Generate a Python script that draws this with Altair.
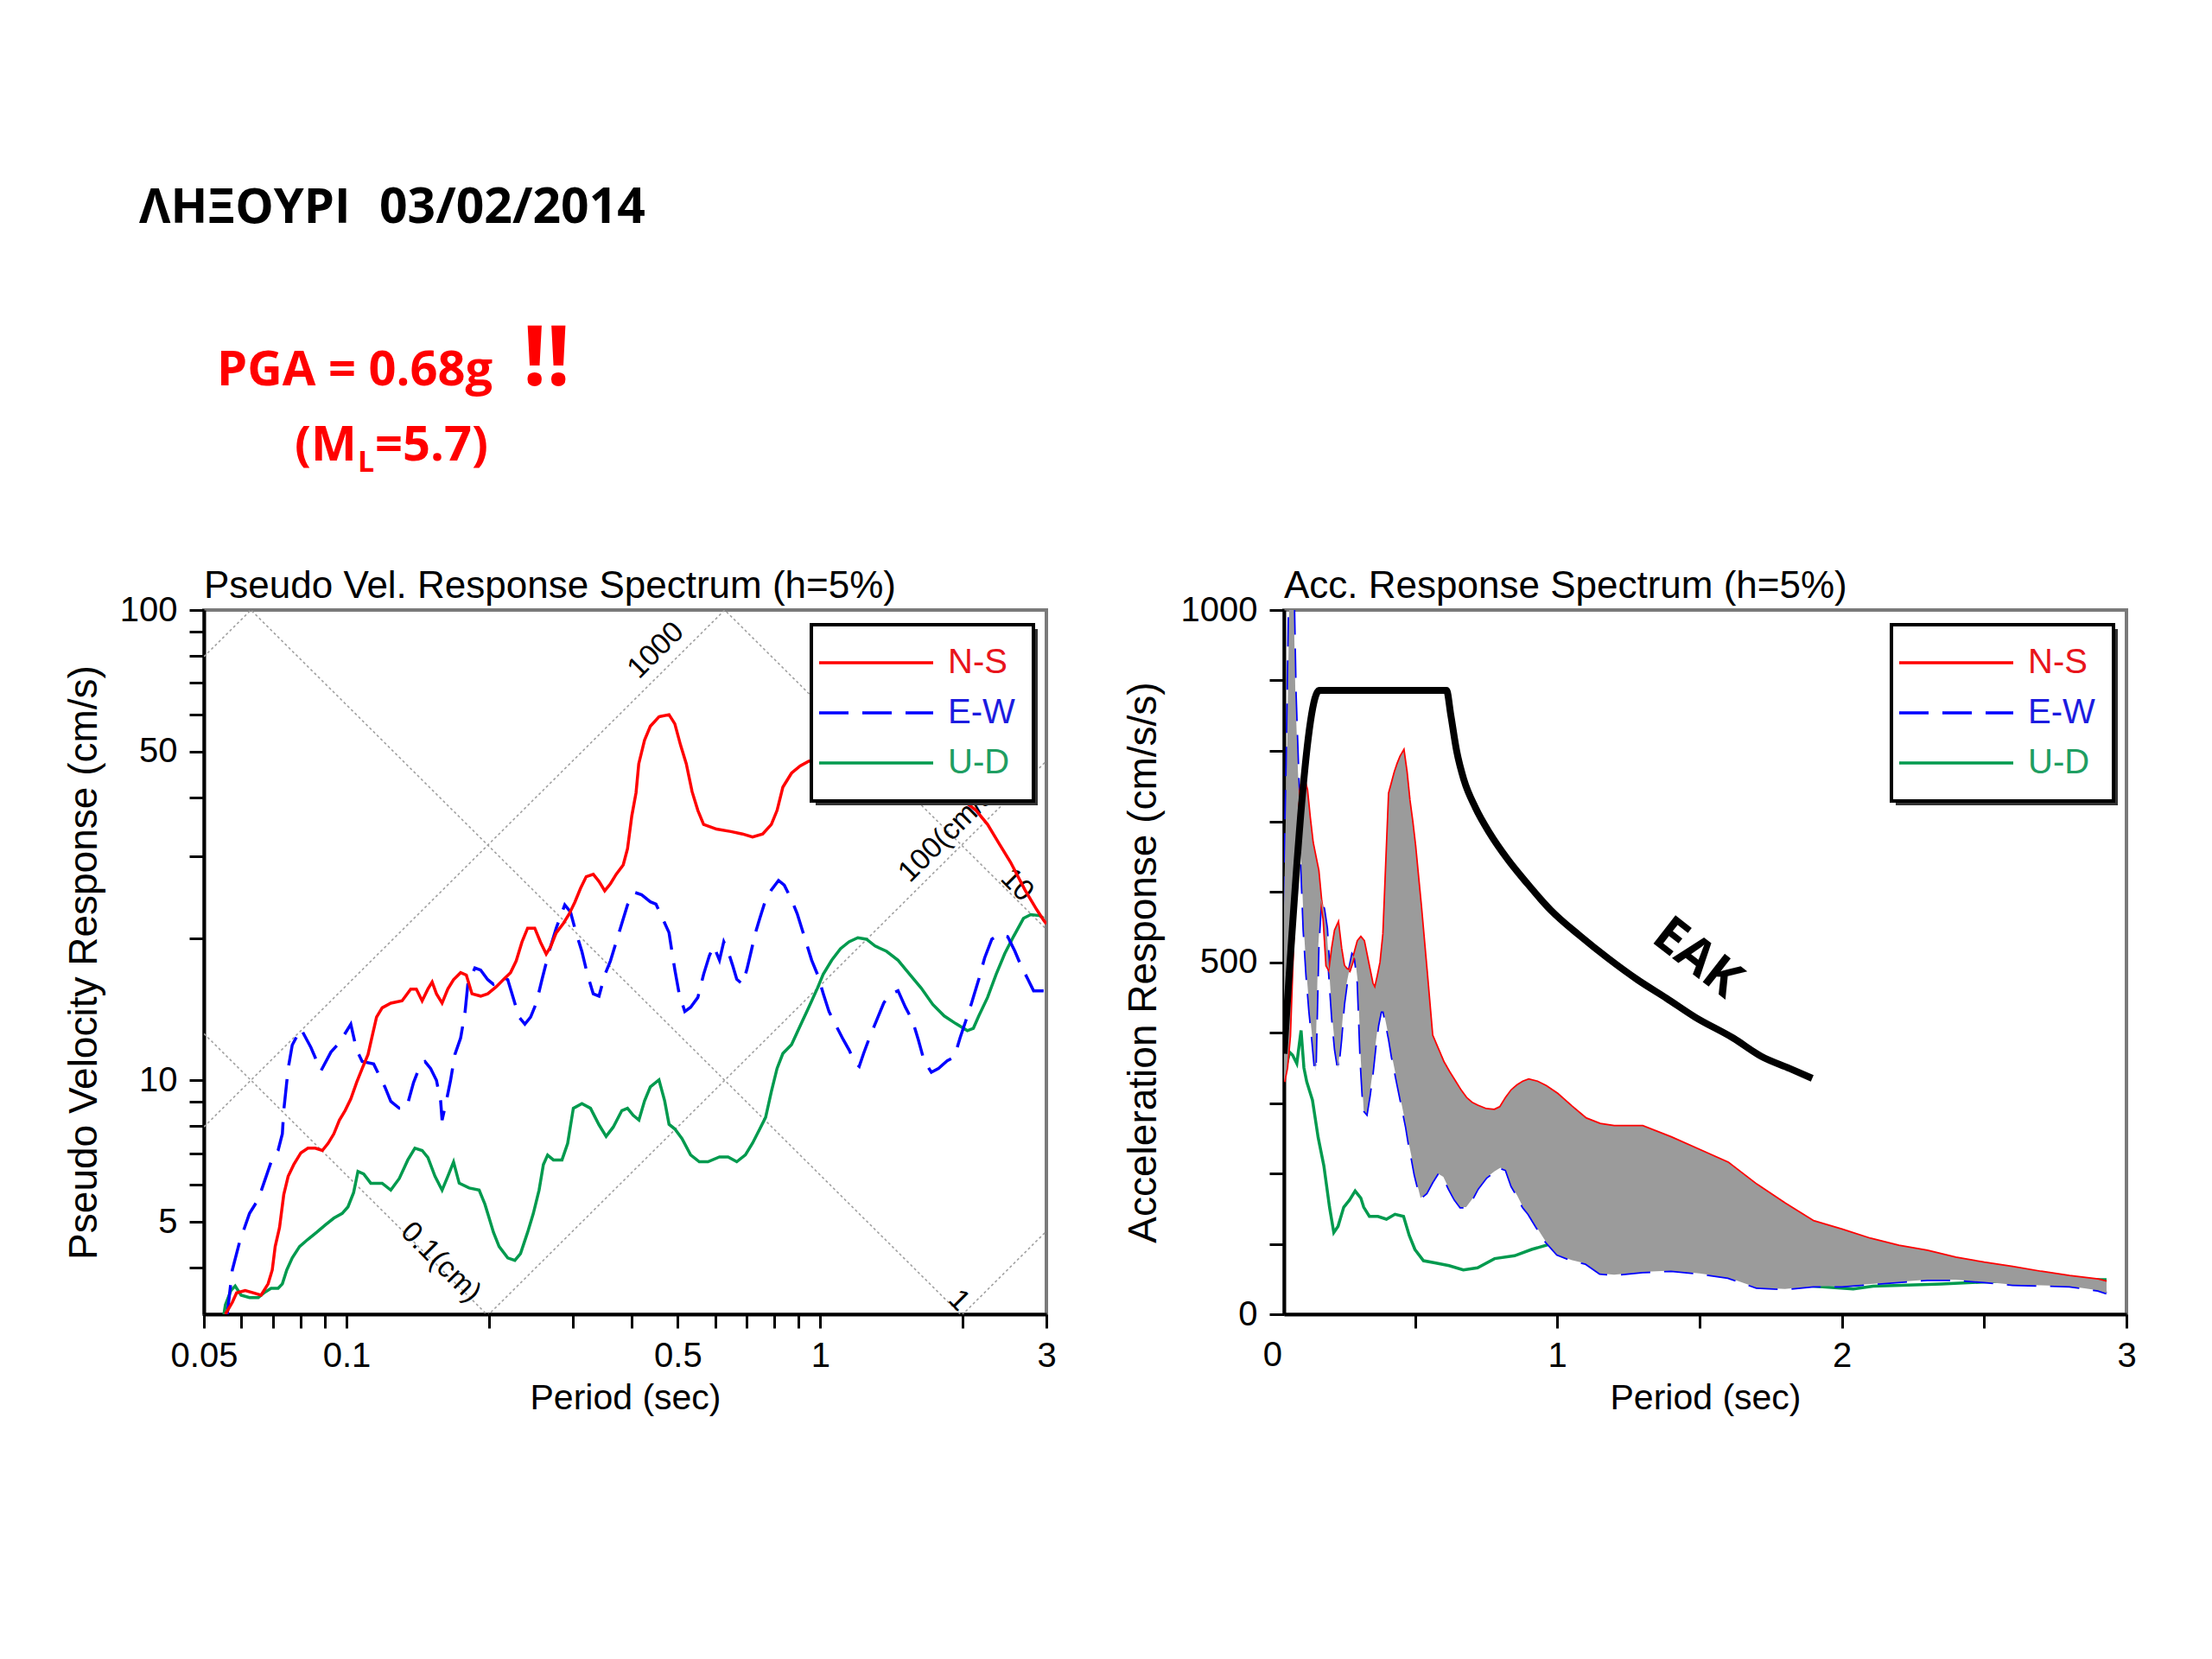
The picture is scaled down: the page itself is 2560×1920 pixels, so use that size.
"""Response spectra slide (Lixouri, 03/02/2014) rebuilt with Altair."""

import math

import altair as alt
import pandas as pd

# ---------------------------------------------------------------- header text
PLACE = 'ΛΗΞΟΥΡΙ'
DATE = '03/02/2014'
PGA_TEXT = 'PGA = 0.68g'
BANG = '!!'
MAG_PARTS = ['(M', 'L', '=5.7)']

# ------------------------------------------- left panel: pseudo velocity (cm/s)
NS_PSV = [
    (0.0555, 3.18), (0.0574, 3.37), (0.0586, 3.53), (0.0611, 3.57), (0.0637, 3.53),
    (0.0660, 3.49), (0.0683, 3.69), (0.0697, 3.95), (0.0707, 4.43), (0.0722, 4.86),
    (0.0737, 5.71), (0.0753, 6.25), (0.0774, 6.62), (0.0801, 7.01), (0.0829, 7.17),
    (0.0859, 7.17), (0.0889, 7.09), (0.0914, 7.34), (0.0940, 7.69), (0.0966, 8.23),
    (0.0993, 8.62), (0.1021, 9.13), (0.1050, 9.89), (0.1079, 10.59), (0.1110, 11.34),
    (0.1133, 12.43), (0.1157, 13.62), (0.1189, 14.26), (0.1240, 14.59), (0.1310, 14.76),
    (0.1366, 15.63), (0.1404, 15.63), (0.1444, 14.76), (0.1485, 15.63), (0.1516, 16.18),
    (0.1548, 15.27), (0.1591, 14.59), (0.1636, 15.63), (0.1682, 16.37), (0.1741, 16.94),
    (0.1790, 16.74), (0.1840, 15.27), (0.1919, 15.10), (0.1986, 15.27), (0.2071, 15.81),
    (0.2143, 16.37), (0.2219, 16.94), (0.2281, 17.94), (0.2345, 19.66), (0.2411, 21.06),
    (0.2496, 21.06), (0.2567, 19.66), (0.2639, 18.56), (0.2695, 19.21), (0.2770, 20.58),
    (0.2868, 21.55), (0.2949, 22.55), (0.3031, 23.88), (0.3117, 25.58), (0.3205, 27.10),
    (0.3317, 27.41), (0.3411, 26.48), (0.3507, 25.29), (0.3606, 26.18), (0.3707, 27.41),
    (0.3837, 28.70), (0.3918, 31.09), (0.4000, 36.48), (0.4084, 40.92), (0.4138, 47.1),
    (0.4256, 52.9), (0.4377, 56.6), (0.4565, 59.3), (0.4794, 59.9), (0.4930, 57.3),
    (0.5070, 51.6), (0.5213, 47.1), (0.5362, 41.1), (0.5514, 37.5), (0.5671, 35.0),
    (0.6040, 34.2), (0.6477, 33.8), (0.6851, 33.4), (0.7194, 32.9), (0.7557, 33.4),
    (0.7882, 35.0), (0.8105, 37.5), (0.8335, 42.0), (0.8694, 45.0), (0.9066, 46.6),
    (0.9455, 47.7), (1.10, 49.0), (1.40, 47.0), (1.70, 43.0), (2.014, 39.2),
    (2.131, 37.5), (2.254, 35.0), (2.383, 31.9), (2.520, 29.1), (2.703, 25.4),
    (2.859, 23.1), (2.960, 21.9), (3.0, 21.5),
]

EW_PSV = [
    (0.0560, 3.18), (0.0574, 3.95), (0.0595, 4.54), (0.0624, 5.21), (0.0651, 5.58),
    (0.0669, 6.04), (0.0693, 6.70), (0.0717, 7.09), (0.0732, 7.69), (0.0737, 8.62),
    (0.0753, 10.59), (0.0768, 11.88), (0.0801, 12.87), (0.0841, 11.74), (0.0883, 10.47),
    (0.0927, 11.48), (0.0966, 12.02), (0.1021, 13.16), (0.1050, 11.61), (0.1079, 10.96),
    (0.1141, 10.83), (0.1206, 9.66), (0.1240, 9.02), (0.1292, 8.72), (0.1338, 8.72),
    (0.1385, 9.89), (0.1434, 10.83), (0.1464, 10.96), (0.1505, 10.59), (0.1548, 10.0),
    (0.1580, 9.02), (0.1591, 8.23), (0.1624, 9.02), (0.1658, 10.0), (0.1693, 11.34),
    (0.1741, 12.3), (0.1778, 13.9), (0.1803, 16.0), (0.1866, 17.33), (0.1919, 17.15),
    (0.1986, 16.37), (0.2042, 16.0), (0.2129, 16.56), (0.2189, 16.37), (0.2250, 14.93),
    (0.2313, 13.62), (0.2379, 13.16), (0.2446, 13.62), (0.2515, 14.59), (0.2585, 16.37),
    (0.2676, 18.78), (0.2770, 21.06), (0.2888, 23.60), (0.2969, 22.8), (0.3052, 20.58),
    (0.3139, 18.78), (0.3227, 16.74), (0.3317, 15.27), (0.3411, 15.10), (0.3507, 16.74),
    (0.3606, 17.94), (0.3707, 19.66), (0.3811, 21.55), (0.3918, 23.60), (0.4052, 25.1),
    (0.4197, 24.8), (0.4377, 23.96), (0.4499, 23.7), (0.4693, 21.6), (0.4794, 20.6),
    (0.4861, 18.8), (0.4930, 17.2), (0.5034, 15.3), (0.5176, 14.0), (0.5324, 14.3),
    (0.5514, 15.0), (0.5671, 16.8), (0.5832, 18.4), (0.5955, 19.3), (0.6125, 18.0),
    (0.6254, 19.7), (0.6387, 18.8), (0.6524, 17.6), (0.6662, 16.4), (0.6851, 16.0),
    (0.6997, 17.2), (0.7145, 18.8), (0.7296, 20.6), (0.7452, 22.1), (0.7665, 24.2),
    (0.7882, 25.4), (0.8162, 26.6), (0.8393, 26.0), (0.8694, 24.2), (0.8939, 22.6),
    (0.9130, 21.1), (0.9324, 19.7), (0.9589, 18.0), (0.9861, 16.8), (1.014, 15.3),
    (1.043, 14.0), (1.080, 13.05), (1.118, 12.2), (1.150, 11.6), (1.183, 10.9),
    (1.208, 10.7), (1.234, 11.4), (1.269, 12.3), (1.314, 13.4), (1.361, 14.6),
    (1.400, 15.2), (1.459, 15.5), (1.512, 14.3), (1.565, 13.4), (1.610, 12.2),
    (1.656, 11.0), (1.715, 10.4), (1.776, 10.6), (1.852, 11.0), (1.918, 11.2),
    (1.972, 12.3), (2.029, 13.4), (2.086, 14.6), (2.160, 16.4), (2.222, 18.2),
    (2.301, 19.95), (2.383, 20.4), (2.486, 20.2), (2.575, 18.8), (2.647, 17.6),
    (2.742, 16.4), (2.819, 15.5), (2.960, 15.5),
]

UD_PSV = [
    (0.0551, 3.18), (0.0555, 3.33), (0.0570, 3.57), (0.0582, 3.65), (0.0599, 3.49),
    (0.0624, 3.45), (0.0651, 3.45), (0.0669, 3.53), (0.0693, 3.61), (0.0717, 3.61),
    (0.0732, 3.69), (0.0748, 3.95), (0.0768, 4.19), (0.0796, 4.43), (0.0829, 4.59),
    (0.0865, 4.75), (0.0901, 4.92), (0.0940, 5.09), (0.0979, 5.21), (0.1007, 5.38),
    (0.1035, 5.77), (0.1057, 6.40), (0.1087, 6.32), (0.1125, 6.04), (0.1189, 6.04),
    (0.1240, 5.84), (0.1292, 6.18), (0.1347, 6.77), (0.1394, 7.17), (0.1444, 7.09),
    (0.1485, 6.85), (0.1537, 6.25), (0.1591, 5.84), (0.1636, 6.25), (0.1682, 6.70),
    (0.1729, 6.04), (0.1815, 5.90), (0.1905, 5.84), (0.1959, 5.45), (0.2000, 5.09),
    (0.2042, 4.75), (0.2099, 4.43), (0.2189, 4.19), (0.2266, 4.14), (0.2329, 4.28),
    (0.2411, 4.75), (0.2479, 5.21), (0.2549, 5.84), (0.2603, 6.62), (0.2657, 6.93),
    (0.2733, 6.77), (0.2849, 6.77), (0.2929, 7.34), (0.3011, 8.72), (0.3139, 8.92),
    (0.3273, 8.72), (0.3411, 8.04), (0.3531, 7.60), (0.3655, 7.95), (0.3811, 8.62),
    (0.3918, 8.72), (0.4028, 8.42), (0.4141, 8.23), (0.4256, 9.04), (0.4377, 9.68),
    (0.4565, 10.02), (0.4693, 9.04), (0.4794, 8.06), (0.4930, 7.88), (0.5105, 7.52),
    (0.5324, 6.94), (0.5553, 6.71), (0.5791, 6.71), (0.6125, 6.87), (0.6387, 6.87),
    (0.6662, 6.71), (0.6947, 6.94), (0.7194, 7.35), (0.7452, 7.88), (0.7665, 8.34),
    (0.7882, 9.46), (0.8105, 10.6), (0.8335, 11.4), (0.8694, 11.9), (0.9066, 13.05),
    (0.9455, 14.3), (0.9861, 15.7), (1.014, 16.8), (1.057, 18.0), (1.103, 19.05),
    (1.150, 19.7), (1.200, 20.1), (1.251, 19.95), (1.305, 19.3), (1.380, 18.8),
    (1.459, 18.0), (1.544, 16.8), (1.633, 15.7), (1.727, 14.5), (1.826, 13.7),
    (1.931, 13.2), (2.043, 12.75), (2.104, 12.9), (2.160, 13.7), (2.254, 15.0),
    (2.350, 16.8), (2.451, 18.6), (2.556, 20.2), (2.684, 22.1), (2.780, 22.5),
    (2.900, 22.4), (2.960, 22.1),
]

# tripartite grid: constant displacement (cm) and constant acceleration (cm/s/s)
DISP_CM = [0.1, 1, 10]
ACC_GAL = [10, 100, 1000, 10000]

# ------------------------------------------ right panel: acceleration (cm/s/s)
PERIOD_R = [
    0.04, 0.05, 0.06, 0.07, 0.08, 0.09, 0.10, 0.11, 0.12, 0.13, 0.14, 0.15, 0.16,
    0.17, 0.18, 0.19, 0.20, 0.21, 0.22, 0.23, 0.24, 0.25, 0.26, 0.27, 0.28, 0.29,
    0.30, 0.31, 0.32, 0.33, 0.34, 0.35, 0.36, 0.37, 0.38, 0.39, 0.40, 0.41, 0.42,
    0.43, 0.44, 0.45, 0.46, 0.47, 0.48, 0.49, 0.50,
    0.52, 0.54, 0.56, 0.58, 0.60, 0.62, 0.64, 0.66, 0.68, 0.70, 0.72,
    0.75, 0.78, 0.80, 0.82, 0.84, 0.86, 0.88, 0.90, 0.93, 0.96,
    1.00, 1.05, 1.10, 1.15, 1.20,
    1.30, 1.40, 1.50, 1.60, 1.70, 1.80, 1.90, 2.00, 2.10, 2.20, 2.30, 2.40, 2.50,
    2.60, 2.70, 2.80, 2.90, 2.93,
]
NS_SA = [
    330, 350, 395, 510, 640, 725, 750, 760, 745, 705, 670, 650, 630,
    587, 561, 495, 488, 520, 545, 554, 520, 495, 490, 488, 500, 515,
    530, 535, 530, 510, 490, 470, 462, 480, 500, 540, 640, 740, 755,
    770, 782, 792, 799, 770, 730, 700, 665,
    581, 490, 396, 377, 358, 344, 331, 318, 307, 300, 296,
    291, 290, 294, 307, 318, 325, 330, 333, 330, 324,
    313, 295, 278, 270, 267,
    267, 251, 233, 215, 184, 157, 132, 120, 107, 97, 90, 80, 73,
    67, 60, 54, 49, 46,
]
EW_SA = [
    580, 780, 1050, 1100, 880, 760, 650, 545, 480, 430, 390, 345, 520,
    590, 575, 548, 480, 420, 376, 350, 390, 440, 470, 490, 510, 505,
    470, 360, 290, 285, 310, 340, 378, 410, 430, 430, 410, 390, 365,
    345, 325, 305, 285, 265, 240, 220, 198,
    165, 172, 187, 200, 195, 178, 163, 152, 152, 163, 178,
    194, 203, 208, 205, 182, 168, 152, 142, 122, 103,
    85, 77, 72, 58, 56,
    60, 62, 58, 52, 38, 36, 40, 40, 43, 46, 49, 49, 46,
    42, 41, 40, 34, 30,
]
UD_SA = [
    (0.04, 366), (0.05, 356), (0.06, 372), (0.07, 368), (0.085, 356), (0.10, 403),
    (0.11, 350), (0.12, 330), (0.14, 304), (0.16, 251), (0.18, 211), (0.20, 152),
    (0.215, 116), (0.23, 125), (0.25, 152), (0.27, 162), (0.29, 175), (0.31, 165),
    (0.32, 152), (0.34, 139), (0.37, 139), (0.40, 135), (0.43, 142), (0.46, 139),
    (0.48, 112), (0.50, 92), (0.53, 76), (0.57, 73), (0.62, 69), (0.67, 63),
    (0.72, 66), (0.78, 79), (0.85, 83), (0.91, 92), (0.97, 99), (1.10, 95),
    (1.30, 80), (1.50, 65), (1.70, 50), (1.90, 40), (2.04, 36), (2.11, 40),
    (2.21, 41), (2.35, 43), (2.51, 46), (2.71, 49), (2.93, 49),
]
EAK_SA = [
    (0.04, 370), (0.164, 886), (0.611, 886), (0.626, 851), (0.647, 799),
    (0.672, 759), (0.713, 719), (0.763, 683), (0.824, 647), (0.896, 611),
    (0.977, 574), (1.078, 538), (1.180, 505), (1.282, 475), (1.383, 449),
    (1.484, 422), (1.619, 392), (1.718, 366), (1.817, 349), (1.896, 335),
]

COMPONENTS = ['N-S', 'E-W', 'U-D']
LINE_COLORS = {'N-S': '#ff0000', 'E-W': '#0000ff', 'U-D': '#009a4e'}
LABEL_COLORS = {'N-S': '#e8141c', 'E-W': '#1c1ce0', 'U-D': '#1f9e62'}
DASHES = {'E-W': [34, 16]}

FONT = 'Liberation Sans'
HEAD_FONT = 'Open Sans'
PANEL_W = 975
PANEL_H = 815
HEAD_DX = -163  # header origin sits on the left plot's origin

AXIS_STYLE = dict(
    domainColor='black', domainWidth=4, tickColor='black', tickWidth=3,
    labelFont=FONT, labelFontSize=40, labelColor='black', labelFlush=False,
    labelOverlap=False, titleFont=FONT, titleFontWeight='normal',
    titleColor='black', grid=False,
)


def dash_kw(name):
    return {'strokeDash': DASHES[name]} if name in DASHES else {}


def one_row():
    return alt.Chart(pd.DataFrame({'k': [0]}))


def legend_layers(x0=703, y0=17, x1=960, y1=221):
    layers = [
        one_row().mark_rect(fill='#333333').encode(
            x=alt.value(x0 + 5), x2=alt.value(x1 + 5),
            y=alt.value(y0 + 5), y2=alt.value(y1 + 5)),
        one_row().mark_rect(fill='white', stroke='black', strokeWidth=4).encode(
            x=alt.value(x0), x2=alt.value(x1), y=alt.value(y0), y2=alt.value(y1)),
    ]
    for i, name in enumerate(COMPONENTS):
        yy = y0 + 44 + 58 * i
        layers.append(one_row().mark_rule(
            color=LINE_COLORS[name], strokeWidth=3.5, **dash_kw(name)
        ).encode(x=alt.value(x0 + 9), x2=alt.value(x0 + 141), y=alt.value(yy)))
        layers.append(one_row().mark_text(
            text=name, font=FONT, fontSize=40, color=LABEL_COLORS[name],
            align='left', baseline='middle'
        ).encode(x=alt.value(x0 + 158), y=alt.value(yy)))
    return layers


def panel_title(text):
    return alt.TitleParams(text, anchor='start', frame='group', font=FONT,
                           fontSize=44, fontWeight='normal', color='black', offset=-15)


# ------------------------------------------------------------------ header
def head_text(text, x, y, size, color='black'):
    return one_row().mark_text(
        text=text, font=HEAD_FONT, fontWeight='bold', fontSize=size, color=color,
        align='left', baseline='alphabetic'
    ).encode(x=alt.value(x + HEAD_DX), y=alt.value(y))


header = alt.layer(
    head_text(PLACE, 88, 248, 56),
    head_text(DATE, 366, 248, 57),
    head_text(PGA_TEXT, 178, 436, 56, '#ff0000'),
    head_text(BANG, 532, 436, 96, '#ff0000'),
    head_text(MAG_PARTS[0], 268, 523, 56, '#ff0000'),
    head_text(MAG_PARTS[1], 341, 536, 34, '#ff0000'),
    head_text(MAG_PARTS[2], 361, 523, 56, '#ff0000'),
).properties(width=2200, height=643, view=alt.ViewBackground(stroke='transparent'))

# -------------------------------------------------------------- left panel
x_psv = alt.X(
    'T:Q', title='Period (sec)',
    scale=alt.Scale(type='log', domain=[0.05, 3], nice=False),
    axis=alt.Axis(
        **AXIS_STYLE, titleFontSize=41, tickSize=16, labelPadding=12, titlePadding=9,
        format='~g',
        values=[0.05, 0.06, 0.07, 0.08, 0.09, 0.1, 0.2, 0.3, 0.4, 0.5, 0.6, 0.7,
                0.8, 0.9, 1, 2, 3],
        labelExpr="indexof([0.05, 0.1, 0.5, 1, 3], datum.value) >= 0 ? datum.label : ''",
    ),
)
y_psv = alt.Y(
    'V:Q', title='Pseudo Velocity Response (cm/s)',
    scale=alt.Scale(type='log', domain=[3.18, 100], nice=False),
    axis=alt.Axis(
        **AXIS_STYLE, titleFontSize=46, tickSize=17, labelPadding=14, titlePadding=17,
        format='~g',
        values=[4, 5, 6, 7, 8, 9, 10, 20, 30, 40, 50, 60, 70, 80, 90, 100],
        labelExpr="indexof([5, 10, 50, 100], datum.value) >= 0 ? datum.label : ''",
    ),
)

grid_rows = []
for d in DISP_CM:
    for t in (0.05, 3.0):
        grid_rows.append({'line': f'd{d}', 'T': t, 'V': 2 * math.pi * d / t})
for a in ACC_GAL:
    for t in (0.05, 3.0):
        grid_rows.append({'line': f'a{a}', 'T': t, 'V': a * t / (2 * math.pi)})

grid = alt.Chart(pd.DataFrame(grid_rows)).mark_line(
    clip=True, color='#a0a0a0', strokeWidth=1.6, strokeDash=[3, 3]
).encode(x=x_psv, y=y_psv, detail='line:N')


def grid_label(text, t, v, angle, align='center'):
    return alt.Chart(pd.DataFrame({'T': [t], 'V': [v]})).mark_text(
        text=text, font=FONT, fontSize=34, color='black', angle=angle, align=align,
        baseline='middle'
    ).encode(x=x_psv, y=y_psv)


def psv_line(points, name):
    return alt.Chart(pd.DataFrame(points, columns=['T', 'V'])).mark_line(
        clip=True, color=LINE_COLORS[name], strokeWidth=3.5, **dash_kw(name)
    ).encode(x=x_psv, y=y_psv)


left = alt.layer(
    grid,
    grid_label('1000', 0.45, 82, 315),
    grid_label('100(cm/s/s)', 1.5, 27, 315, align='left'),
    grid_label('10', 2.6, 26, 45),
    grid_label('0.1(cm)', 0.158, 4.1, 45),
    grid_label('1', 1.96, 3.4, 45),
    psv_line(UD_PSV, 'U-D'),
    psv_line(EW_PSV, 'E-W'),
    psv_line(NS_PSV, 'N-S'),
    *legend_layers(),
).properties(width=PANEL_W, height=PANEL_H,
             title=panel_title('Pseudo Vel. Response Spectrum (h=5%)'))

# ------------------------------------------------------------- right panel
x_sa = alt.X(
    'T:Q', title='Period (sec)',
    scale=alt.Scale(domain=[0.04, 3], nice=False, zero=False),
    axis=alt.Axis(
        **AXIS_STYLE, titleFontSize=41, tickSize=16, labelPadding=12, titlePadding=9,
        format='~g',
        values=[0.5, 1, 1.5, 2, 2.5, 3],
        labelExpr="datum.value % 1 == 0 ? datum.label : ''",
    ),
)


def y_sa(field):
    return alt.Y(
        f'{field}:Q', title='Acceleration Response (cm/s/s)',
        scale=alt.Scale(domain=[0, 1000], nice=False),
        axis=alt.Axis(
            **AXIS_STYLE, titleFontSize=46, tickSize=17, labelPadding=14,
            titlePadding=19, format='d',
            values=list(range(0, 1001, 100)),
            labelExpr="datum.value % 500 == 0 ? datum.label : ''",
        ),
    )


sa = pd.DataFrame({'T': PERIOD_R, 'NS': NS_SA, 'EW': EW_SA})
ud_sa = pd.DataFrame(UD_SA, columns=['T', 'A'])
eak = pd.DataFrame(EAK_SA, columns=['T', 'A'])

# the period axis starts at 0 although the frame starts a little later
zero_label = alt.Chart(pd.DataFrame({'T': [0]})).mark_text(
    text='0', font=FONT, fontSize=40, color='black', align='center', baseline='top'
).encode(x=x_sa, y=alt.value(PANEL_H + 28))

right = alt.layer(
    alt.Chart(ud_sa).mark_line(clip=True, color=LINE_COLORS['U-D'], strokeWidth=3.5)
    .encode(x=x_sa, y=y_sa('A')),
    alt.Chart(sa).mark_line(clip=True, color=LINE_COLORS['E-W'], strokeWidth=3.5,
                            strokeDash=DASHES['E-W'])
    .encode(x=x_sa, y=y_sa('EW')),
    alt.Chart(sa).mark_line(clip=True, color=LINE_COLORS['N-S'], strokeWidth=3.5)
    .encode(x=x_sa, y=y_sa('NS')),
    alt.Chart(sa).mark_area(clip=True, color='#9b9b9b', opacity=1)
    .encode(x=x_sa, y=y_sa('NS'), y2='EW:Q'),
    alt.Chart(eak).mark_line(clip=True, color='black', strokeWidth=8,
                             interpolate='monotone')
    .encode(x=x_sa, y=y_sa('A')),
    alt.Chart(pd.DataFrame({'T': [1.49], 'A': [505]})).mark_text(
        text='EAK', font=HEAD_FONT, fontWeight='bold', fontSize=58, angle=38,
        color='black', align='center', baseline='middle'
    ).encode(x=x_sa, y=y_sa('A')),
    zero_label,
    *legend_layers(),
).properties(width=PANEL_W, height=PANEL_H,
             title=panel_title('Acc. Response Spectrum (h=5%)'))

row = alt.hconcat(left, right, spacing=73)

chart = alt.vconcat(header, row, spacing=0).properties(
    padding={'left': 64, 'top': 0, 'right': 0, 'bottom': 0},
    background='white',
).configure_view(stroke='#7a7a7a', strokeWidth=4)

chart.save('out.html', embed_options={'renderer': 'svg', 'actions': False})
